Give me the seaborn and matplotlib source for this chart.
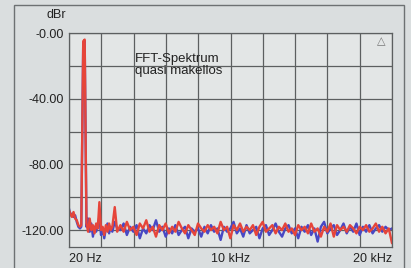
import numpy as np
import pandas as pd
import matplotlib
matplotlib.use("Agg")
import matplotlib.pyplot as plt
from matplotlib.patches import Rectangle
import seaborn as sns

# --- data ---
freq_low = [20, 100, 200, 300, 400, 500, 600, 700, 780, 900, 990,
            1100, 1200, 1300, 1400, 1500, 1600, 1700, 1800, 1900, 2000,
            2100, 2200, 2300, 2400, 2500, 2600, 2700, 2850, 3000]
red_low = [-108, -110, -112, -109, -113, -114, -117, -118, -117, -5, -4,
           -116, -121, -113, -120, -117, -122, -116, -119, -103, -120,
           -118, -123, -117, -121, -116, -120, -118, -106, -121]
blue_low = [-107, -111, -110, -112, -111, -115, -118, -119, -118, -6, -5,
            -118, -113, -121, -116, -124, -118, -121, -117, -112, -123,
            -119, -125, -119, -116, -122, -118, -121, -115, -119]

freq_noise = [3200, 3400, 3600, 3800, 4000, 4200, 4400, 4600, 4800, 5000,
              5200, 5400, 5600, 5800, 6000, 6200, 6400, 6600, 6800, 7000,
              7200, 7400, 7600, 7800, 8000, 8200, 8400, 8600, 8800, 9000,
              9200, 9400, 9600, 9800, 10000, 10200, 10400, 10600, 10800, 11000,
              11200, 11400, 11600, 11800, 12000, 12200, 12400, 12600, 12800, 13000,
              13200, 13400, 13600, 13800, 14000, 14200, 14400, 14600, 14800, 15000,
              15200, 15400, 15600, 15800, 16000, 16200, 16400, 16600, 16800, 17000,
              17200, 17400, 17600, 17800, 18000, 18200, 18400, 18600, 18800, 19000,
              19200, 19400, 19600, 19800, 20000]
red_noise = [-117, -121, -115, -120, -118, -123, -116, -119, -114, -121,
             -118, -124, -117, -120, -116, -122, -118, -121, -115, -119,
             -122, -117, -120, -123, -116, -119, -121, -117, -120, -118,
             -122, -115, -120, -118, -125, -117, -120, -116, -121, -118,
             -120, -117, -123, -118, -115, -121, -119, -117, -122, -118,
             -120, -116, -121, -119, -123, -117, -120, -118, -122, -116,
             -121, -119, -124, -118, -121, -116, -124, -117, -120, -118,
             -121, -117, -119, -122, -118, -120, -117, -121, -119, -116,
             -121, -118, -122, -119, -128]
blue_noise = [-120, -116, -123, -118, -121, -117, -125, -119, -122, -117,
              -120, -114, -121, -118, -124, -119, -122, -117, -123, -120,
              -118, -125, -119, -121, -119, -124, -118, -122, -117, -121,
              -119, -126, -118, -121, -119, -115, -122, -119, -124, -117,
              -122, -120, -118, -125, -119, -117, -123, -120, -116, -121,
              -124, -119, -117, -122, -119, -125, -118, -121, -117, -123,
              -119, -127, -118, -115, -122, -119, -117, -123, -120, -116,
              -122, -118, -121, -116, -123, -118, -121, -117, -122, -119,
              -117, -121, -118, -120, -119]

y_ticks = [0, -40, -80, -120]
y_ticklabels = ["-0.00", "-40.00", "-80.00", "-120.00"]
x_ticklabels = ["20 Hz", "10 kHz", "20 kHz"]

df = pd.DataFrame({
    "freq": freq_low + freq_noise,
    "red": red_low + red_noise,
    "blue": blue_low + blue_noise,
})

# --- style ---
sns.set_style("white", {"axes.facecolor": "#e3e6e6", "figure.facecolor": "#dadedf"})
plt.rcParams["font.family"] = ["Liberation Sans", "DejaVu Sans"]
plt.rcParams["font.size"] = 9

fig = plt.figure(figsize=(4.11, 2.68), dpi=100)
W, H = 411, 268
ax = fig.add_axes([69 / W, 1 - 246.5 / H, (392 - 69) / W, (246.5 - 33) / H])

sns.lineplot(data=df, x="freq", y="blue", color="#4848c4", lw=1.7, ax=ax)
sns.lineplot(data=df, x="freq", y="red", color="#e6453a", lw=1.7, ax=ax)

ax.set_xlim(20, 20000)
ax.set_ylim(-130, 0)

gridcol = "#5c5f60"
xgrid = np.linspace(20, 20000, 11)
ax.set_xticks(xgrid)
ax.set_xticklabels([x_ticklabels[0]] + [""] * 4 + [x_ticklabels[1]] + [""] * 4 + [x_ticklabels[2]])
lbls = ax.get_xticklabels()
lbls[0].set_ha("left")
lbls[-1].set_ha("right")
ax.tick_params(axis="x", length=0, pad=5, labelsize=9, colors="#222222")

ax.set_yticks(y_ticks)
ax.set_yticklabels(y_ticklabels)
ax.set_yticks([-20, -60, -100], minor=True)
ax.tick_params(axis="y", which="major", length=3, width=0.8, color=gridcol, pad=1,
               labelsize=9, labelcolor="#222222")
ax.tick_params(axis="y", which="minor", length=0)

ax.grid(True, which="both", color=gridcol, lw=0.9)
ax.set_axisbelow(True)
for s in ax.spines.values():
    s.set_color(gridcol)
    s.set_linewidth(0.9)
ax.set_xlabel("")
ax.set_ylabel("")

fig.text(66 / W, 1 - 15 / H, "dBr", ha="right", va="center", fontsize=9, color="#222222")
ax.text(0.205, 0.905, "FFT-Spektrum\nquasi makellos", transform=ax.transAxes,
        ha="left", va="top", fontsize=9.5, linespacing=1.0, color="#222222")
ax.text(0.968, 0.96, "\u25b3", transform=ax.transAxes, ha="center", va="center",
        fontsize=8, color="#777777", family=["DejaVu Sans"])

fig.add_artist(Rectangle((14 / W, -0.01), (404 - 14) / W, 1 - 5 / H + 0.01,
                         transform=fig.transFigure, fill=False, ec="#6d7173", lw=1.0))

fig.savefig("out.png", dpi=100)
